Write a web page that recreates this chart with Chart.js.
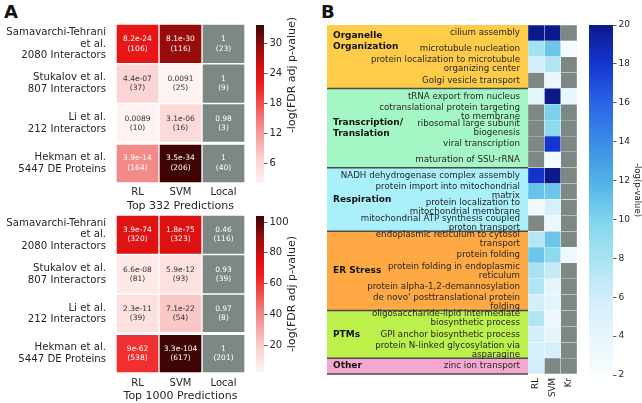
<!DOCTYPE html>
<html>
<head>
<meta charset="utf-8">
<script src="https://cdn.jsdelivr.net/npm/chart.js@4.4.1/dist/chart.umd.min.js"></script>
<style>
  body { margin: 0; background: #fff; width: 642px; height: 403px; position: relative; overflow: hidden; }
  canvas { position: absolute; }
  .panel { position: absolute; font: bold 18px "DejaVu Sans"; line-height: 18px; color: #111; }
</style>
</head>
<body>
<div class="panel" style="left:4px;top:3px">A</div>
<div class="panel" style="left:321px;top:3px">B</div>
<canvas id="a1" width="250" height="215" style="left:0;top:0"></canvas>
<canvas id="a2" width="250" height="213" style="left:0;top:190px"></canvas>
<canvas id="cb1" width="60" height="215" style="left:250px;top:0"></canvas>
<canvas id="cb2" width="60" height="213" style="left:250px;top:190px"></canvas>
<canvas id="b" width="265" height="403" style="left:320px;top:0"></canvas>
<canvas id="cbb" width="62" height="403" style="left:580px;top:0"></canvas>
<script>
// ---------- panel A data ----------
const studies = [
  ['Samavarchi-Tehrani', 'et al.', '2080 Interactors'],
  ['Stukalov et al.', '807 Interactors'],
  ['Li et al.', '212 Interactors'],
  ['Hekman et al.', '5447 DE Proteins']
];
const methodsA = ['RL', 'SVM', 'Local'];

// Top 332 predictions: FDR adj p-values and overlap counts
const top332RLp = [8.2e-24, 4.4e-07, 0.0089, 3.9e-14];
const top332SVMp = [8.1e-30, 0.0091, 3.1e-06, 3.5e-34];
const top332LocalP = [1, 1, 0.98, 1];
const top332RLn = [106, 37, 10, 164];
const top332SVMn = [116, 25, 16, 206];
const top332LocalN = [23, 9, 3, 40];

// Top 1000 predictions
const top1000RLp = [3.9e-74, 6.6e-08, 2.3e-11, 9e-62];
const top1000SVMp = [1.8e-75, 5.9e-12, 7.1e-22, 3.3e-104];
const top1000LocalP = [0.46, 0.93, 0.97, 1];
const top1000RLn = [320, 81, 39, 538];
const top1000SVMn = [323, 93, 54, 617];
const top1000LocalN = [116, 39, 8, 201];

const cbarA1Range = [2.0, 33.6];
const cbarA1Ticks = [6, 12, 18, 24, 30];
const cbarA2Range = [2.5, 104];
const cbarA2Ticks = [20, 40, 60, 80, 100];

// ---------- panel B data ----------
const goTerms = [
  'cilium assembly',
  'microtubule nucleation',
  ['protein localization to microtubule', 'organizing center'],
  'Golgi vesicle transport',
  'tRNA export from nucleus',
  ['cotranslational protein targeting', 'to membrane'],
  ['ribosomal large subunit', 'biogenesis'],
  'viral transcription',
  'maturation of SSU-rRNA',
  'NADH dehydrogenase complex assembly',
  ['protein import into mitochondrial', 'matrix'],
  ['protein localization to', 'mitochondrial membrane'],
  ['mitochondrial ATP synthesis coupled', 'proton transport'],
  ['endoplasmic reticulum to cytosol', 'transport'],
  'protein folding',
  ['protein folding in endoplasmic', 'reticulum'],
  'protein alpha-1,2-demannosylation',
  ["de novo' posttranslational protein", 'folding'],
  ['oligosaccharide-lipid intermediate', 'biosynthetic process'],
  'GPI anchor biosynthetic process',
  ['protein N-linked glycosylation via', 'asparagine'],
  'zinc ion transport'
];
const methodsB = ['RL', 'SVM', 'Kr'];
// -log(p-value); null = not significant (grey)
const goRL  = [20, 8.2, 5.8, null, 4.2, null, null, null, null, 18.2, 11, 2.8, null, 7.3, 10.8, 8, 7.6, 5.8, 7.6, 5.8, 5.6, 5.8];
const goSVM = [20, 10.8, 7.6, 3.5, 20, 10.2, 9.3, 18, 2.8, 20, 10.8, 5.5, 3.5, 10.8, 9.3, 6.5, 4.3, 4.5, 3.6, 4.2, 5.6, null];
const goKr  = [null, 2.5, null, null, 4, null, null, null, null, null, null, null, null, null, 3.2, null, null, null, null, null, null, null];
const goGroups = [['Organelle', 'Organization'], ['Transcription/', 'Translation'], ['Respiration'], ['ER Stress'], ['PTMs'], ['Other']];
const goGroupSizes = [4, 5, 4, 5, 3, 1];

const cbarBRange = [2, 20];
const cbarBTicks = [2, 4, 6, 8, 10, 12, 14, 16, 18, 20];

// ---------- styles ----------
const FONT = '"DejaVu Sans"';
const TXT = '#262626';
const GREY = '#7d8885';
const redStops = [[0, '#fff2f2'], [0.15, '#fbd2d2'], [0.36, '#f38a8a'], [0.62, '#f01e1e'], [0.72, '#dc1010'], [0.86, '#980c0c'], [1, '#3c0505']];
const blueStops = [[0, '#f8fcff'], [0.111, '#e8f6fd'], [0.222, '#d0eef9'], [0.333, '#a9e3f2'], [0.444, '#7ed5ec'],
                   [0.556, '#50b0e6'], [0.667, '#3a8ae6'], [0.778, '#2a64e6'], [0.889, '#1436d0'], [1, '#0a1a8a']];
const groupColors = ['#ffcc4a', '#a5f6c5', '#aaf0fa', '#ffa944', '#bcf04a', '#f4a8d0'];
const groupLabelShift = [-1, 0, 0, 0, 0, 0];

Chart.defaults.font.family = FONT;
Chart.defaults.color = TXT;
Chart.defaults.animation = false;
Chart.defaults.plugins.legend.display = false;
Chart.defaults.plugins.tooltip.enabled = false;

function hexRgb(h) { return [1, 3, 5].map(i => parseInt(h.slice(i, i + 2), 16)); }
function rgbHex(a) { return '#' + a.map(v => v.toString(16).padStart(2, '0')).join(''); }
function cmap(stops, t) {
  t = Math.max(0, Math.min(1, t));
  for (let i = 1; i < stops.length; i++) {
    if (t <= stops[i][0]) {
      const [t0, c0] = stops[i - 1], [t1, c1] = stops[i];
      const f = (t - t0) / (t1 - t0);
      const a = hexRgb(c0), b = hexRgb(c1);
      return rgbHex(a.map((v, k) => Math.round(v + (b[k] - v) * f)));
    }
  }
  return stops[stops.length - 1][1];
}
function textColor(hex) {
  const lum = hexRgb(hex).map(v => { v /= 255; return v <= 0.03928 ? v / 12.92 : Math.pow((v + 0.055) / 1.055, 2.4); });
  const l = 0.2126 * lum[0] + 0.7152 * lum[1] + 0.0722 * lum[2];
  return l > 0.408 ? '#333333' : '#ffffff';
}
function fmtP(p) {
  if (p >= 1e-4) return String(Number(p.toPrecision(2)));
  let [m, e] = p.toExponential(1).split('e');
  m = m.replace(/\.0$/, '');
  const sign = e[0] === '-' ? '-' : '+';
  let d = e.replace(/^[-+]/, '');
  if (d.length < 2) d = '0' + d;
  return m + 'e' + sign + d;
}
function pColor(p, range) {
  if (p > 0.05) return GREY;
  return cmap(redStops, (-Math.log10(p) - range[0]) / (range[1] - range[0]));
}

// heatmap as floating horizontal bars: one dataset per column, all in one stack
function heatmap(id, o) {
  const datasets = o.cols.map((name, ci) => ({
    label: name,
    data: o.rows.map(() => [ci, ci + 1]),
    backgroundColor: o.colors[ci],
    borderColor: o.borderColor,
    borderWidth: o.borderWidth,
    borderSkipped: false,
    barPercentage: 1,
    categoryPercentage: 1
  }));
  return new Chart(document.getElementById(id), {
    type: 'bar',
    data: { labels: o.rows, datasets: datasets },
    options: {
      indexAxis: 'y',
      responsive: false,
      layout: { padding: o.padding },
      scales: {
        y: {
          type: 'category', stacked: true,
          grid: { display: false, drawTicks: false }, border: { display: false },
          ticks: { padding: o.yPad, font: o.yFont, color: TXT, autoSkip: false },
          afterFit: s => { s.width = o.yWidth; }
        },
        x: {
          type: 'linear', min: 0, max: o.cols.length,
          grid: { display: false, drawTicks: false }, border: { display: false },
          afterBuildTicks: s => { s.ticks = o.cols.map((_, i) => ({ value: i + 0.5 })); },
          ticks: { autoSkip: false, padding: o.xPad, font: o.xFont, color: TXT,
                   minRotation: o.xRot, maxRotation: o.xRot, callback: (v, i) => o.cols[i] },
          title: o.title ? { display: true, text: o.title, font: { size: 11 }, color: TXT, padding: { top: 0, bottom: o.titlePad } } : { display: false },
          afterFit: s => { s.height = o.xHeight; }
        }
      }
    },
    plugins: o.plugins || []
  });
}

function cellText(pCols, nCols, colorCols) {
  return {
    id: 'cellText',
    afterDatasetsDraw(chart) {
      const { ctx, chartArea, scales: { y } } = chart;
      ctx.save();
      // wider white gap above the last study
      ctx.fillStyle = '#fff';
      const gy = y.getPixelForValue(2.5);
      ctx.fillRect(chartArea.left, gy - 1.5, chartArea.right - chartArea.left, 3);
      ctx.font = '7.5px ' + FONT;
      ctx.textAlign = 'center';
      ctx.textBaseline = 'middle';
      chart.data.datasets.forEach((ds, ci) => {
        chart.getDatasetMeta(ci).data.forEach((el, ri) => {
          const cx = (el.x + el.base) / 2;
          ctx.fillStyle = textColor(colorCols[ci][ri]);
          ctx.fillText(fmtP(pCols[ci][ri]), cx, el.y - 4.7);
          ctx.fillText('(' + nCols[ci][ri] + ')', cx, el.y + 4.7);
        });
      });
      ctx.restore();
    }
  };
}

const cbarLabel = {
  id: 'cbarLabel',
  afterDraw(chart, args, opts) {
    const ctx = chart.ctx;
    ctx.save();
    ctx.translate(opts.x, opts.y);
    ctx.rotate(opts.angle);
    ctx.font = opts.font;
    ctx.fillStyle = TXT;
    ctx.textAlign = 'center';
    ctx.textBaseline = 'middle';
    ctx.fillText(opts.text, 0, 0);
    ctx.restore();
  }
};

function colorbar(id, o) {
  return new Chart(document.getElementById(id), {
    type: 'bar',
    data: {
      labels: [''],
      datasets: [{
        data: [o.range],
        backgroundColor: c => {
          const a = c.chart.chartArea;
          if (!a) return null;
          const g = c.chart.ctx.createLinearGradient(0, a.bottom, 0, a.top);
          o.stops.forEach(([t, col]) => g.addColorStop(t, col));
          return g;
        },
        borderWidth: 0, barPercentage: 1, categoryPercentage: 1
      }]
    },
    options: {
      responsive: false,
      layout: { padding: o.padding },
      plugins: { cbarLabel: o.label },
      scales: {
        x: { display: false },
        y: {
          position: 'right', min: o.range[0], max: o.range[1],
          afterBuildTicks: s => { s.ticks = o.ticks.map(v => ({ value: v })); },
          grid: { drawOnChartArea: false, tickLength: 3.5, color: '#333', lineWidth: 0.8 },
          border: { display: false },
          ticks: { padding: 2, font: { size: o.fontSize }, color: TXT },
          afterFit: s => { s.width = o.width; }
        }
      }
    },
    plugins: [cbarLabel]
  });
}

// ---------- panel A ----------
const a1Colors = [top332RLp, top332SVMp, top332LocalP].map(col => col.map(p => pColor(p, cbarA1Range)));
heatmap('a1', {
  rows: studies, cols: methodsA, colors: a1Colors,
  borderColor: '#ffffff', borderWidth: 1,
  padding: { top: 24, right: 5 }, yWidth: 116, xHeight: 32,
  yPad: 10, yFont: { size: 10.2, lineHeight: 1.15 }, xPad: 3, xFont: { size: 10 }, xRot: 0,
  title: 'Top 332 Predictions', titlePad: 2,
  plugins: [cellText([top332RLp, top332SVMp, top332LocalP], [top332RLn, top332SVMn, top332LocalN], a1Colors)]
});

const a2Colors = [top1000RLp, top1000SVMp, top1000LocalP].map(col => col.map(p => pColor(p, cbarA2Range)));
heatmap('a2', {
  rows: studies, cols: methodsA, colors: a2Colors,
  borderColor: '#ffffff', borderWidth: 1,
  padding: { top: 25, right: 5 }, yWidth: 116, xHeight: 30,
  yPad: 10, yFont: { size: 10.2, lineHeight: 1.15 }, xPad: 4, xFont: { size: 10 }, xRot: 0,
  title: 'Top 1000 Predictions', titlePad: 0,
  plugins: [cellText([top1000RLp, top1000SVMp, top1000LocalP], [top1000RLn, top1000SVMn, top1000LocalN], a2Colors)]
});

colorbar('cb1', {
  range: cbarA1Range, ticks: cbarA1Ticks, stops: redStops, fontSize: 10,
  padding: { left: 6, top: 25, bottom: 32 }, width: 46,
  label: { text: '-log(FDR adj p-value)', x: 42, y: 75, angle: -Math.PI / 2, font: '11px ' + FONT }
});
colorbar('cb2', {
  range: cbarA2Range, ticks: cbarA2Ticks, stops: redStops, fontSize: 10,
  padding: { left: 6, top: 26, bottom: 31 }, width: 46,
  label: { text: '-log(FDR adj p-value)', x: 42, y: 104, angle: -Math.PI / 2, font: '11px ' + FONT }
});

// ---------- panel B ----------
const bColors = [goRL, goSVM, goKr].map(col => col.map(v => v === null ? GREY : cmap(blueStops, (v - cbarBRange[0]) / (cbarBRange[1] - cbarBRange[0]))));

const groupBands = {
  id: 'groupBands',
  beforeDraw(chart) {
    const { ctx, chartArea, scales: { y } } = chart;
    const left = 7, right = chartArea.left;
    ctx.save();
    let start = 0;
    const bounds = [];
    goGroupSizes.forEach((n, g) => {
      const y0 = y.getPixelForValue(start - 0.5);
      const y1 = y.getPixelForValue(start + n - 0.5);
      ctx.fillStyle = groupColors[g];
      ctx.fillRect(left, y0, right - left, y1 - y0);
      bounds.push(y1);
      start += n;
    });
    ctx.strokeStyle = '#4a4a4a';
    ctx.lineWidth = 1.5;
    bounds.forEach(by => {
      ctx.beginPath(); ctx.moveTo(left, by); ctx.lineTo(right, by); ctx.stroke();
    });
    ctx.font = 'bold 9px ' + FONT;
    ctx.fillStyle = '#111';
    ctx.textAlign = 'left';
    ctx.textBaseline = 'middle';
    start = 0;
    goGroupSizes.forEach((n, g) => {
      const cy = y.getPixelForValue(start + (n - 1) / 2 + groupLabelShift[g]);
      const lines = goGroups[g];
      const lh = 11;
      lines.forEach((t, k) => ctx.fillText(t, left + 6, cy + (k - (lines.length - 1) / 2) * lh));
      start += n;
    });
    ctx.restore();
  }
};

heatmap('b', {
  rows: goTerms, cols: methodsB, colors: bColors,
  borderColor: 'rgba(255,255,255,0.35)', borderWidth: 0.5,
  padding: { top: 25, right: 8 }, yWidth: 208, xHeight: 29,
  yPad: 8, yFont: { size: 8.7, lineHeight: 1.05 }, xPad: 4, xFont: { size: 8.7 }, xRot: 90,
  plugins: [groupBands]
});

colorbar('cbb', {
  range: cbarBRange, ticks: cbarBTicks, stops: blueStops, fontSize: 9,
  padding: { left: 9, top: 25, bottom: 28 }, width: 29,
  label: { text: '-log(p-value)', x: 57, y: 190, angle: Math.PI / 2, font: '8.5px ' + FONT }
});
</script>
</body>
</html>
